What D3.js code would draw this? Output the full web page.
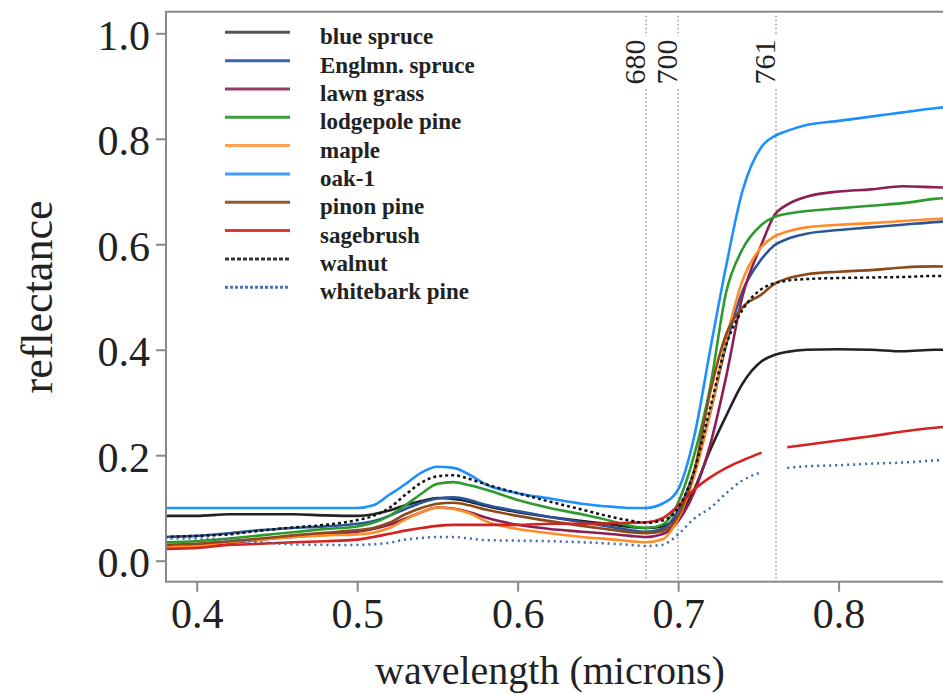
<!DOCTYPE html>
<html>
<head>
<meta charset="utf-8">
<script src="https://cdn.jsdelivr.net/npm/d3@7"></script>
<style>
body{margin:0;background:#fff;}
svg{display:block;}
</style>
</head>
<body>
<div id="chart"></div>
<script>
// wavelength grid (microns)
var wavelength=[0.38,0.40,0.42,0.44,0.46,0.48,0.50,0.51,0.52,0.53,0.54,0.55,0.56,0.57,0.58,0.60,0.62,0.64,0.66,0.67,0.68,0.69,0.70,0.71,0.72,0.73,0.74,0.752,0.76,0.768,0.78,0.80,0.82,0.84,0.86,0.88];

// reflectance per species
var blueSpruce=[0.085,0.085,0.088,0.088,0.088,0.086,0.085,0.088,0.095,0.105,0.113,0.119,0.117,0.112,0.104,0.092,0.083,0.075,0.068,0.064,0.062,0.065,0.085,0.135,0.21,0.275,0.335,0.378,0.39,0.396,0.40,0.401,0.40,0.397,0.40,0.40];
var englmnSpruce=[0.045,0.047,0.052,0.058,0.062,0.065,0.07,0.075,0.085,0.098,0.11,0.118,0.12,0.115,0.106,0.094,0.083,0.073,0.063,0.058,0.055,0.06,0.095,0.17,0.28,0.41,0.51,0.572,0.598,0.61,0.62,0.627,0.632,0.637,0.642,0.645];
var lawnGrass=[0.025,0.028,0.033,0.04,0.045,0.05,0.055,0.06,0.068,0.08,0.092,0.101,0.099,0.092,0.082,0.068,0.06,0.055,0.05,0.047,0.045,0.05,0.075,0.13,0.22,0.35,0.50,0.60,0.655,0.675,0.69,0.70,0.704,0.71,0.708,0.706];
var lodgepolePine=[0.035,0.037,0.042,0.048,0.054,0.06,0.065,0.072,0.085,0.105,0.127,0.146,0.149,0.143,0.135,0.115,0.10,0.088,0.074,0.066,0.062,0.068,0.11,0.2,0.33,0.51,0.59,0.637,0.652,0.658,0.663,0.668,0.673,0.678,0.686,0.69];
var maple=[0.025,0.028,0.035,0.04,0.045,0.048,0.05,0.053,0.062,0.078,0.092,0.101,0.098,0.09,0.075,0.06,0.052,0.045,0.04,0.037,0.035,0.04,0.08,0.16,0.28,0.42,0.53,0.595,0.615,0.624,0.632,0.637,0.64,0.644,0.648,0.65];
var oak1=[0.10,0.10,0.10,0.10,0.10,0.10,0.10,0.105,0.125,0.145,0.167,0.178,0.176,0.163,0.145,0.128,0.118,0.108,0.102,0.10,0.10,0.108,0.135,0.235,0.40,0.56,0.70,0.785,0.805,0.815,0.826,0.834,0.842,0.85,0.858,0.863];
var pinonPine=[0.03,0.032,0.037,0.042,0.048,0.053,0.058,0.062,0.072,0.088,0.10,0.108,0.11,0.105,0.097,0.085,0.075,0.066,0.058,0.054,0.052,0.056,0.085,0.17,0.32,0.43,0.48,0.505,0.525,0.535,0.543,0.548,0.551,0.556,0.558,0.556];
var sagebrush=[0.022,0.024,0.03,0.032,0.035,0.037,0.04,0.045,0.051,0.057,0.062,0.066,0.068,0.068,0.068,0.068,0.07,0.07,0.071,0.072,0.073,0.08,0.104,0.135,0.158,0.176,0.19,0.205,null,0.215,0.22,0.228,0.236,0.245,0.252,0.258];
var walnut=[0.045,0.047,0.05,0.057,0.063,0.068,0.077,0.085,0.10,0.125,0.148,0.16,0.162,0.155,0.145,0.128,0.112,0.097,0.082,0.076,0.072,0.076,0.10,0.17,0.29,0.41,0.475,0.515,0.526,0.531,0.534,0.536,0.537,0.538,0.54,0.54];
var whitebarkPine=[0.042,0.042,0.04,0.035,0.031,0.03,0.03,0.031,0.034,0.04,0.043,0.045,0.045,0.042,0.039,0.038,0.037,0.035,0.032,0.03,0.028,0.03,0.05,0.08,0.1,0.128,0.152,0.168,null,0.176,0.179,0.181,0.184,0.186,0.19,0.192];

var speciesNames=["blue spruce","Englmn. spruce","lawn grass","lodgepole pine","maple","oak-1","pinon pine","sagebrush","walnut","whitebark pine"];
var speciesValues=[blueSpruce,englmnSpruce,lawnGrass,lodgepolePine,maple,oak1,pinonPine,sagebrush,walnut,whitebarkPine];

var xTicks=[0.4,0.5,0.6,0.7,0.8];
var yTicks=[0.0,0.2,0.4,0.6,0.8,1.0];
var refLines=[680,700,761];

// styles
var lineColors=["#222222","#2a5599","#8e1f55","#2e9a2e","#ff8c26","#1e8fff","#8c4a1c","#d42222","#111111","#3a68b0"];
var legendColors=["#555555","#3a64a8","#9a3a68","#3aa03a","#ffa050","#3f9cff","#98582c","#d83a3a","#333333","#4a72b8"];
var lineDash=[null,null,null,null,null,null,null,null,"3,3","2,4"];

var w=943, h=694;
var plot={left:166, top:11.7, bottom:581.7, right:1100};

var svg=d3.select("#chart").append("svg")
    .attr("width",w).attr("height",h)
    .style("font-family","'Liberation Serif','Times New Roman',serif");

var xScale=d3.scaleLinear().domain([0.4,0.8]).range([196.7,838.6]);
var yScale=d3.scaleLinear().domain([0,1]).range([560.7,33.3]);

svg.append("defs").append("clipPath").attr("id","clip")
   .append("rect").attr("x",plot.left).attr("y",plot.top)
   .attr("width",plot.right-plot.left).attr("height",plot.bottom-plot.top);

//reference wavelength lines
var refs=svg.append("g");
refLines.forEach(function(nm){
    var xp=xScale(nm/1000);
    refs.append("line").attr("x1",xp).attr("x2",xp).attr("y1",plot.top+4).attr("y2",36)
        .style("stroke","#999").style("stroke-width",1.5).style("stroke-dasharray","1.5,2.5");
    refs.append("line").attr("x1",xp).attr("x2",xp).attr("y1",89).attr("y2",plot.bottom)
        .style("stroke","#999").style("stroke-width",1.5).style("stroke-dasharray","1.5,2.5");
    refs.append("text")
        .attr("transform","translate("+(xp-1)+",62)rotate(-90)")
        .attr("text-anchor","middle")
        .style("font-size","30px").style("fill","#222")
        .text(nm);
});

//spectra
var line=d3.line()
    .defined(function(d){return d[1]!==null;})
    .x(function(d){return xScale(d[0]);})
    .y(function(d){return yScale(d[1]);})
    .curve(d3.curveMonotoneX);

var curves=svg.append("g").attr("clip-path","url(#clip)");
speciesValues.forEach(function(vals,i){
    var pts=wavelength.map(function(wl,j){return [wl,vals[j]];});
    curves.append("path").datum(pts)
        .attr("d",line)
        .style("fill","none")
        .style("stroke",lineColors[i])
        .style("stroke-width",i>=8?2.5:2.6)
        .style("stroke-dasharray",lineDash[i]);
});

//frame
svg.append("rect").attr("x",plot.left).attr("y",plot.top)
   .attr("width",plot.right-plot.left).attr("height",plot.bottom-plot.top)
   .style("fill","none").style("stroke","#888").style("stroke-width",2);

//axes
var xAxis=d3.axisBottom(xScale).tickValues(xTicks).tickSize(10).tickPadding(6).tickFormat(d3.format(".1f"));
var gx=svg.append("g").attr("transform","translate(0,"+plot.bottom+")").call(xAxis);
var yAxis=d3.axisLeft(yScale).tickValues(yTicks).tickSize(10).tickPadding(6).tickFormat(d3.format(".1f"));
var gy=svg.append("g").attr("transform","translate("+plot.left+",0)").call(yAxis);
[gx,gy].forEach(function(g){
    g.select(".domain").remove();
    g.selectAll(".tick line").style("stroke","#888").style("stroke-width",2);
    g.selectAll(".tick text").style("font-family","'Liberation Serif','Times New Roman',serif")
     .style("font-size","42px").style("fill","#222");
});
gy.selectAll(".tick text").attr("dy","0.38em");

//axis titles
svg.append("text").attr("x",550).attr("y",684)
   .attr("text-anchor","middle").style("font-size","40px").style("fill","#222")
   .text("wavelength (microns)");
svg.append("text").attr("transform","translate(52,297)rotate(-90)")
   .attr("text-anchor","middle").style("font-size","44px").style("fill","#222")
   .text("reflectance");

//legend
var legend=svg.append("g");
speciesNames.forEach(function(name,i){
    var ly=32.3+28.33*i;
    legend.append("line").attr("x1",225).attr("x2",290).attr("y1",ly).attr("y2",ly)
        .style("stroke",legendColors[i]).style("stroke-width",3)
        .style("stroke-dasharray",i==8?"4,2":(i==9?"3,2":null));
    legend.append("text").attr("x",320).attr("y",ly+12)
        .style("font-size","23px").style("font-weight","bold").style("fill","#222")
        .text(name);
});
</script>
</body>
</html>
